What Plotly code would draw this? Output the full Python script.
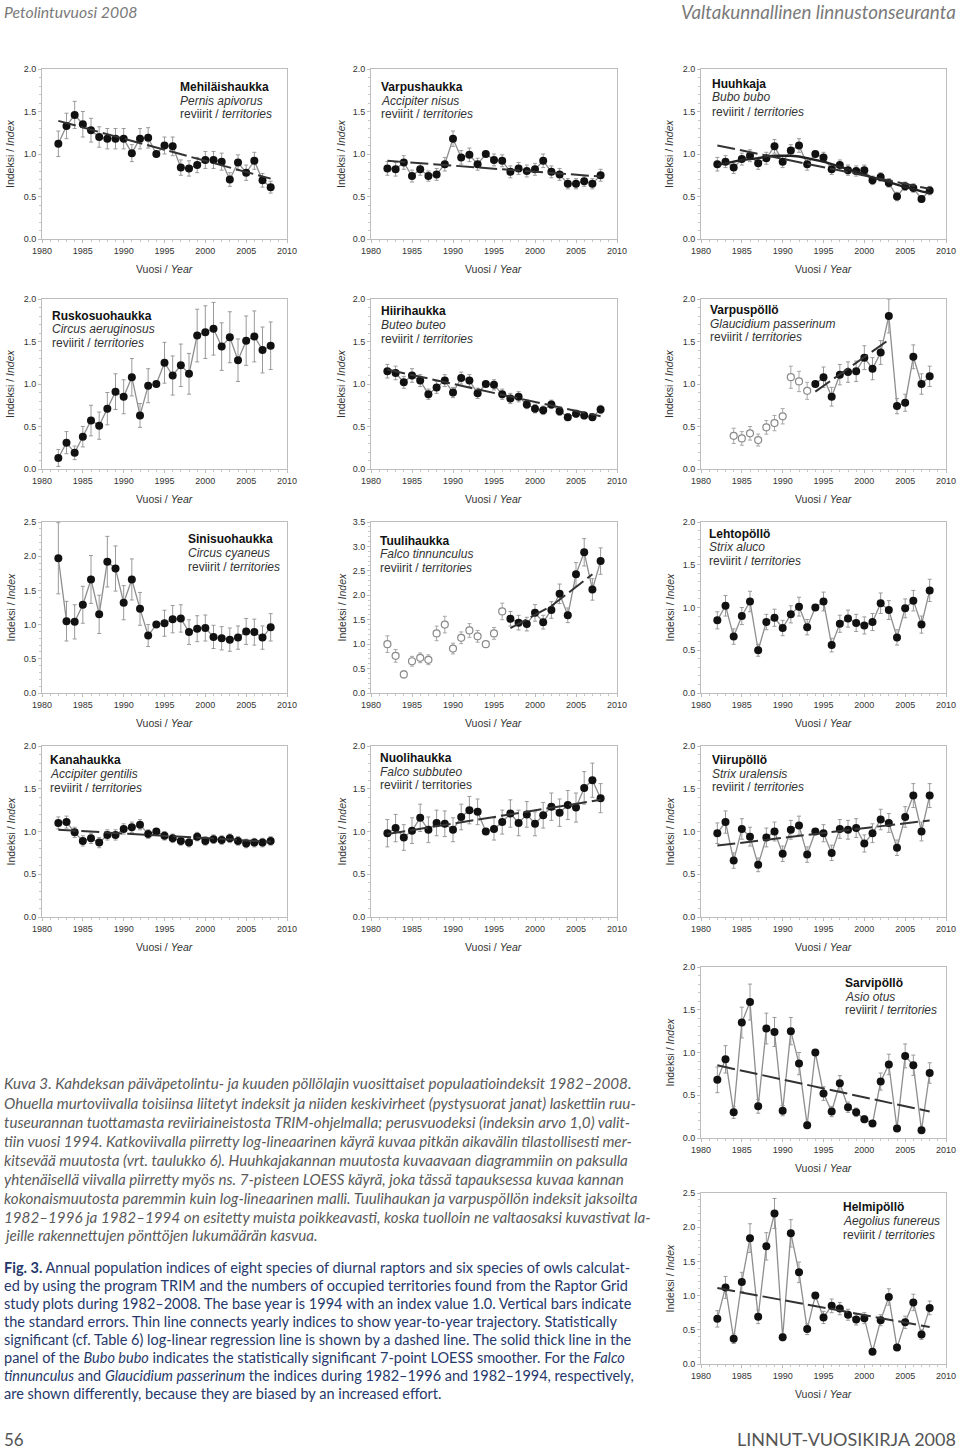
import plotly.graph_objects as go

W, H = 960, 1452

YEARS = list(range(1982, 2009))
X_TICKS = [1980, 1985, 1990, 1995, 2000, 2005, 2010]

# ---------------- data ----------------
MEHI_IDX = [1.12, 1.33, 1.46, 1.35, 1.28, 1.20, 1.18, 1.18, 1.18, 1.01, 1.18, 1.19, 1.00, 1.10, 1.09,
            0.84, 0.83, 0.87, 0.93, 0.93, 0.91, 0.70, 0.90, 0.78, 0.92, 0.69, 0.61]
MEHI_SE = [0.15, 0.15, 0.16, 0.15, 0.14, 0.12, 0.12, 0.12, 0.12, 0.10, 0.12, 0.12, 0, 0.10, 0.11,
           0.09, 0.09, 0.09, 0.10, 0.10, 0.10, 0.08, 0.09, 0.09, 0.10, 0.08, 0.07]
MEHI_TREND_X = [1982, 2008]
MEHI_TREND_Y = [1.39, 0.71]

VARP_IDX = [0.83, 0.82, 0.90, 0.74, 0.82, 0.74, 0.76, 0.88, 1.18, 0.96, 0.99, 0.88, 1.00, 0.93, 0.92,
            0.79, 0.83, 0.80, 0.82, 0.92, 0.79, 0.76, 0.65, 0.65, 0.68, 0.65, 0.75]
VARP_SE = [0.08, 0.08, 0.08, 0.07, 0.07, 0.06, 0.07, 0.08, 0.09, 0.08, 0.08, 0.07, 0, 0.07, 0.07,
           0.07, 0.07, 0.07, 0.07, 0.08, 0.07, 0.07, 0.06, 0.06, 0.06, 0.06, 0.07]
VARP_TREND_X = [1982, 2008]
VARP_TREND_Y = [0.92, 0.735]

HUUH_IDX = [0.88, 0.91, 0.84, 0.94, 0.98, 0.89, 0.95, 1.09, 0.91, 1.04, 1.10, 0.88, 1.00, 0.96, 0.82,
            0.87, 0.81, 0.80, 0.81, 0.69, 0.73, 0.66, 0.50, 0.62, 0.60, 0.47, 0.57]
HUUH_SE = [0.08, 0.07, 0.07, 0.07, 0.07, 0.07, 0.07, 0.08, 0.07, 0.07, 0.08, 0.07, 0, 0.06, 0.06,
           0.06, 0.06, 0.06, 0.06, 0.05, 0.05, 0.05, 0.05, 0.05, 0.05, 0.04, 0.05]
HUUH_TREND_X = [1982, 2008]
HUUH_TREND_Y = [1.10, 0.59]
HUUH_LOESS = [0.87, 0.89, 0.91, 0.93, 0.94, 0.95, 0.97, 0.98, 0.98, 0.98, 0.97, 0.95, 0.93, 0.91, 0.88,
              0.85, 0.82, 0.79, 0.76, 0.72, 0.70, 0.67, 0.64, 0.61, 0.59, 0.56, 0.54]

RUSK_IDX = [0.13, 0.31, 0.19, 0.38, 0.57, 0.51, 0.71, 0.91, 0.85, 1.08, 0.63, 0.98, 1.00, 1.25, 1.10,
            1.22, 1.12, 1.57, 1.61, 1.65, 1.44, 1.55, 1.28, 1.51, 1.56, 1.40, 1.45]
RUSK_SE = [0.10, 0.13, 0.08, 0.12, 0.18, 0.16, 0.19, 0.21, 0.20, 0.22, 0.14, 0.20, 0, 0.24, 0.23,
           0.25, 0.24, 0.31, 0.31, 0.31, 0.28, 0.30, 0.25, 0.29, 0.30, 0.27, 0.28]

HIIR_IDX = [1.15, 1.13, 1.02, 1.10, 1.04, 0.88, 0.96, 1.04, 0.90, 1.07, 1.04, 0.89, 1.00, 0.99, 0.88,
            0.83, 0.85, 0.76, 0.71, 0.69, 0.76, 0.68, 0.61, 0.65, 0.63, 0.61, 0.70]
HIIR_SE = [0.08, 0.08, 0.07, 0.08, 0.07, 0.06, 0.07, 0.07, 0.06, 0.07, 0.07, 0.06, 0, 0.06, 0.06,
           0.06, 0.06, 0.05, 0.05, 0.05, 0.05, 0.05, 0.04, 0.04, 0.04, 0.04, 0.05]
HIIR_TREND_X = [1982, 2008]
HIIR_TREND_Y = [1.17, 0.62]

VPOL_IDX = [None, None, 0.39, 0.36, 0.42, 0.34, 0.49, 0.54, 0.62, 1.08, 1.03, 0.92, 1.00, 1.08, 0.85,
            1.11, 1.14, 1.15, 1.31, 1.18, 1.37, 1.80, 0.74, 0.78, 1.32, 1.00, 1.09]
VPOL_SE = [None, None, 0.09, 0.08, 0.08, 0.07, 0.08, 0.09, 0.09, 0.13, 0.12, 0.10, 0, 0.12, 0.11,
           0.12, 0.12, 0.12, 0.14, 0.13, 0.14, 0.20, 0.09, 0.10, 0.14, 0.12, 0.12]
VPOL_TREND_X = [1994, 2003]
VPOL_TREND_Y = [0.91, 1.52]

SINI_IDX = [1.97, 1.05, 1.04, 1.29, 1.66, 1.15, 1.92, 1.82, 1.32, 1.66, 1.23, 0.84, 1.00, 1.02, 1.08,
            1.09, 0.89, 0.94, 0.95, 0.82, 0.80, 0.78, 0.81, 0.90, 0.89, 0.81, 0.96]
SINI_SE = [0.52, 0.29, 0.25, 0.27, 0.35, 0.28, 0.37, 0.33, 0.25, 0.30, 0.24, 0.16, 0, 0.19, 0.20,
           0.20, 0.18, 0.19, 0.19, 0.17, 0.17, 0.17, 0.17, 0.19, 0.19, 0.17, 0.20]

TUUL_IDX = [1.00, 0.76, 0.38, 0.65, 0.72, 0.68, 1.22, 1.40, 0.91, 1.13, 1.28, 1.16, 1.00, 1.22, 1.67,
            1.52, 1.44, 1.41, 1.64, 1.45, 1.70, 2.03, 1.59, 2.43, 2.88, 2.12, 2.70]
TUUL_SE = [0.17, 0.13, 0.07, 0.10, 0.10, 0.10, 0.15, 0.17, 0.11, 0.12, 0.14, 0.12, 0, 0.12, 0.17,
           0.15, 0.15, 0.14, 0.17, 0.14, 0.17, 0.20, 0.15, 0.24, 0.28, 0.22, 0.27]
TUUL_TREND_X = [1997, 2002, 2007]
TUUL_TREND_Y = [1.33, 1.78, 2.43]

LEHT_IDX = [0.85, 1.02, 0.66, 0.90, 1.07, 0.50, 0.83, 0.88, 0.76, 0.92, 1.01, 0.77, 1.00, 1.07, 0.56,
            0.81, 0.87, 0.82, 0.79, 0.83, 1.05, 0.97, 0.65, 0.99, 1.08, 0.80, 1.20]
LEHT_SE = [0.10, 0.12, 0.09, 0.10, 0.12, 0.07, 0.09, 0.10, 0.09, 0.10, 0.11, 0.09, 0, 0.11, 0.08,
           0.10, 0.10, 0.10, 0.10, 0.10, 0.12, 0.11, 0.09, 0.11, 0.12, 0.10, 0.13]

KANA_IDX = [1.10, 1.11, 0.99, 0.89, 0.92, 0.87, 0.96, 0.96, 1.03, 1.05, 1.08, 0.97, 1.00, 0.95, 0.92,
            0.89, 0.87, 0.94, 0.89, 0.91, 0.90, 0.92, 0.89, 0.86, 0.87, 0.87, 0.89]
KANA_SE = [0.07, 0.07, 0.06, 0.06, 0.06, 0.06, 0.06, 0.06, 0.06, 0.06, 0.06, 0.05, 0, 0.05, 0.05,
           0.05, 0.05, 0.05, 0.05, 0.05, 0.05, 0.05, 0.05, 0.05, 0.05, 0.05, 0.05]
KANA_TREND_X = [1982, 2008]
KANA_TREND_Y = [1.02, 0.88]

NUOL_IDX = [0.98, 1.04, 0.93, 1.01, 1.16, 1.02, 1.10, 1.09, 1.02, 1.17, 1.25, 1.23, 1.00, 1.03, 1.11,
            1.21, 1.10, 1.20, 1.09, 1.19, 1.29, 1.22, 1.31, 1.28, 1.51, 1.60, 1.39]
NUOL_SE = [0.16, 0.16, 0.15, 0.15, 0.16, 0.15, 0.15, 0.15, 0.14, 0.15, 0.16, 0.15, 0, 0.13, 0.14,
           0.16, 0.15, 0.15, 0.14, 0.15, 0.16, 0.16, 0.17, 0.17, 0.19, 0.20, 0.17]
NUOL_TREND_X = [1982, 2008]
NUOL_TREND_Y = [0.97, 1.37]

VIIR_IDX = [0.98, 1.11, 0.66, 1.03, 0.94, 0.61, 0.93, 1.00, 0.74, 1.02, 1.07, 0.73, 1.00, 0.98, 0.75,
            1.03, 1.02, 1.04, 0.86, 0.98, 1.14, 1.10, 0.81, 1.17, 1.42, 1.00, 1.42]
VIIR_SE = [0.12, 0.13, 0.09, 0.12, 0.11, 0.08, 0.11, 0.11, 0.09, 0.11, 0.11, 0.09, 0, 0.10, 0.09,
           0.11, 0.11, 0.11, 0.10, 0.11, 0.12, 0.11, 0.09, 0.12, 0.14, 0.11, 0.14]
VIIR_TREND_X = [1982, 2008]
VIIR_TREND_Y = [0.835, 1.13]

SARV_IDX = [0.68, 0.92, 0.30, 1.35, 1.59, 0.37, 1.28, 1.24, 0.32, 1.25, 0.87, 0.15, 1.00, 0.52, 0.31,
            0.64, 0.36, 0.30, 0.22, 0.17, 0.66, 0.86, 0.11, 0.96, 0.85, 0.09, 0.76]
SARV_SE = [0.15, 0.16, 0.07, 0.18, 0.21, 0.08, 0.18, 0.17, 0.06, 0.16, 0.13, 0.04, 0, 0.08, 0.06,
           0.09, 0.06, 0.05, 0.04, 0.03, 0.10, 0.12, 0.03, 0.14, 0.12, 0.02, 0.12]
SARV_TREND_X = [1982, 2008]
SARV_TREND_Y = [0.85, 0.31]

HELM_IDX = [0.66, 1.12, 0.37, 1.20, 1.84, 0.69, 1.72, 2.20, 0.39, 1.91, 1.34, 0.51, 1.00, 0.68, 0.85,
            0.81, 0.72, 0.65, 0.67, 0.18, 0.64, 0.98, 0.24, 0.61, 0.90, 0.43, 0.82]
HELM_SE = [0.12, 0.16, 0.07, 0.14, 0.21, 0.10, 0.20, 0.22, 0.05, 0.20, 0.15, 0.08, 0, 0.09, 0.10,
           0.09, 0.08, 0.08, 0.08, 0.03, 0.08, 0.12, 0.04, 0.09, 0.12, 0.07, 0.10]
HELM_TREND_X = [1982, 2008]
HELM_TREND_Y = [1.11, 0.54]

# ---------------- layout geometry (pixels) ----------------
COLS = [(42, 287), (371, 617), (701, 946)]
ROWS = [(69, 239), (299, 469), (522, 693), (746, 917), (967, 1138), (1193, 1364)]
YTITLE_X = [10, 341, 669]

PANELS = [
    dict(idx=MEHI_IDX, se=MEHI_SE, tx=MEHI_TREND_X, ty=MEHI_TREND_Y, name="Mehiläishaukka",
         sci="Pernis apivorus", ymax=2.0, col=0, row=0, txt=(178, 87, 100.5, 114)),
    dict(idx=VARP_IDX, se=VARP_SE, tx=VARP_TREND_X, ty=VARP_TREND_Y, name="Varpushaukka",
         sci="Accipiter nisus", ymax=2.0, col=1, row=0, txt=(379, 87, 100.5, 114)),
    dict(idx=HUUH_IDX, se=HUUH_SE, tx=HUUH_TREND_X, ty=HUUH_TREND_Y, loess=HUUH_LOESS, name="Huuhkaja",
         sci="Bubo bubo", ymax=2.0, col=2, row=0, txt=(710, 84, 97.5, 111.5)),
    dict(idx=RUSK_IDX, se=RUSK_SE, name="Ruskosuohaukka",
         sci="Circus aeruginosus", ymax=2.0, col=0, row=1, txt=(50, 315.5, 329, 342.5)),
    dict(idx=HIIR_IDX, se=HIIR_SE, tx=HIIR_TREND_X, ty=HIIR_TREND_Y, name="Hiirihaukka",
         sci="Buteo buteo", ymax=2.0, col=1, row=1, txt=(379, 311, 325, 338.5)),
    dict(idx=VPOL_IDX, se=VPOL_SE, tx=VPOL_TREND_X, ty=VPOL_TREND_Y, name="Varpuspöllö",
         sci="Glaucidium passerinum", ymax=2.0, col=2, row=1, txt=(708, 310, 324, 337.5), first_filled=1994),
    dict(idx=SINI_IDX, se=SINI_SE, name="Sinisuohaukka",
         sci="Circus cyaneus", ymax=2.5, col=0, row=2, txt=(186, 539, 552.5, 566.5)),
    dict(idx=TUUL_IDX, se=TUUL_SE, tx=TUUL_TREND_X, ty=TUUL_TREND_Y, name="Tuulihaukka",
         sci="Falco tinnunculus", ymax=3.5, col=1, row=2, txt=(378, 540.5, 554, 568), first_filled=1997),
    dict(idx=LEHT_IDX, se=LEHT_SE, name="Lehtopöllö",
         sci="Strix aluco", ymax=2.0, col=2, row=2, txt=(707, 534, 547.5, 560.5)),
    dict(idx=KANA_IDX, se=KANA_SE, tx=KANA_TREND_X, ty=KANA_TREND_Y, name="Kanahaukka",
         sci="Accipiter gentilis", ymax=2.0, col=0, row=3, txt=(48, 760.5, 774, 788)),
    dict(idx=NUOL_IDX, se=NUOL_SE, tx=NUOL_TREND_X, ty=NUOL_TREND_Y, name="Nuolihaukka",
         sci="Falco subbuteo", ymax=2.0, col=1, row=3, txt=(378, 758, 771.5, 785), plain_terr=True),
    dict(idx=VIIR_IDX, se=VIIR_SE, tx=VIIR_TREND_X, ty=VIIR_TREND_Y, name="Viirupöllö",
         sci="Strix uralensis", ymax=2.0, col=2, row=3, txt=(710, 760, 773.5, 787)),
    dict(idx=SARV_IDX, se=SARV_SE, tx=SARV_TREND_X, ty=SARV_TREND_Y, name="Sarvipöllö",
         sci="Asio otus", ymax=2.0, col=2, row=4, txt=(843, 983, 996.5, 1010)),
    dict(idx=HELM_IDX, se=HELM_SE, tx=HELM_TREND_X, ty=HELM_TREND_Y, name="Helmipöllö",
         sci="Aegolius funereus", ymax=2.5, col=2, row=5, txt=(841, 1207, 1220.5, 1234.5)),
]

FONT = "Liberation Sans, Arial, sans-serif"
CAP_FONT = "Lato, Open Sans, sans-serif"


def px(x):
    return x / W


def py(y):
    return 1 - y / H


fig = go.Figure()
annotations = []
layout_axes = {}

for i, p in enumerate(PANELS):
    n = i + 1
    xa = "x" if n == 1 else f"x{n}"
    ya = "y" if n == 1 else f"y{n}"
    x0, x1 = COLS[p["col"]]
    y0, y1 = ROWS[p["row"]]
    ymax = p["ymax"]

    layout_axes["xaxis" if n == 1 else f"xaxis{n}"] = dict(
        domain=[px(x0), px(x1)], range=[1980, 2010], anchor=ya,
        tickmode="array", tickvals=X_TICKS, ticktext=[str(t) for t in X_TICKS],
        showline=True, linecolor="#bdbdbd", linewidth=1, mirror=True,
        ticks="outside", ticklen=3, tickcolor="#bdbdbd",
        minor=dict(dtick=1, ticks="outside", ticklen=2, tickcolor="#c8c8c8"),
        showgrid=False, zeroline=False, fixedrange=True, automargin=False,
        tickfont=dict(family=FONT, size=9, color="#333"),
    )
    layout_axes["yaxis" if n == 1 else f"yaxis{n}"] = dict(
        domain=[py(y1), py(y0)], range=[0, ymax], anchor=xa,
        dtick=0.5, tick0=0, tickformat=".1f",
        showline=True, linecolor="#bdbdbd", linewidth=1, mirror=True,
        ticks="outside", ticklen=3, tickcolor="#bdbdbd",
        minor=dict(dtick=0.1, ticks="outside", ticklen=2, tickcolor="#c8c8c8"),
        showgrid=False, zeroline=False, fixedrange=True, automargin=False,
        tickfont=dict(family=FONT, size=9, color="#333"),
    )

    ff = p.get("first_filled", 1982)
    yrs, idx, se = YEARS, p["idx"], p["se"]
    o_x = [yr for yr, v in zip(yrs, idx) if v is not None and yr < ff]
    o_y = [v for yr, v in zip(yrs, idx) if v is not None and yr < ff]
    o_e = [e for yr, v, e in zip(yrs, idx, se) if v is not None and yr < ff]
    f_x = [yr for yr, v in zip(yrs, idx) if v is not None and yr >= ff]
    f_y = [v for yr, v in zip(yrs, idx) if v is not None and yr >= ff]
    f_e = [e for yr, v, e in zip(yrs, idx, se) if v is not None and yr >= ff]

    # thin connecting line
    fig.add_trace(go.Scatter(x=f_x, y=f_y, xaxis=xa, yaxis=ya, mode="lines",
                             line=dict(color="#8e8e8e", width=1.3), hoverinfo="skip", showlegend=False))
    if o_x:
        fig.add_trace(go.Scatter(x=o_x, y=o_y, xaxis=xa, yaxis=ya, mode="markers",
                                 marker=dict(symbol="circle", size=7, color="white",
                                             line=dict(color="#8a8a8a", width=1.2)),
                                 error_y=dict(type="data", array=o_e, color="#a8a8a8", thickness=1, width=2),
                                 showlegend=False))
    fig.add_trace(go.Scatter(x=f_x, y=f_y, xaxis=xa, yaxis=ya, mode="markers",
                             marker=dict(symbol="circle", size=8, color="#111"),
                             error_y=dict(type="data", array=f_e, color="#9a9a9a", thickness=1, width=2),
                             showlegend=False))
    if "loess" in p:
        fig.add_trace(go.Scatter(x=YEARS, y=p["loess"], xaxis=xa, yaxis=ya, mode="lines",
                                 line=dict(color="#222", width=2.4), hoverinfo="skip", showlegend=False))
    if "tx" in p:
        fig.add_trace(go.Scatter(x=p["tx"], y=p["ty"], xaxis=xa, yaxis=ya, mode="lines",
                                 line=dict(color="#333", width=2, dash="18px,5px"),
                                 hoverinfo="skip", showlegend=False))

    # in-panel species text
    tx0, l1, l2, l3 = p["txt"]
    terr = "reviirit / territories" if p.get("plain_terr") else "reviirit / <i>territories</i>"
    for yy, t, col in [(l1, f"<b>{p['name']}</b>", "#111"), (l2, f"<i>{p['sci']}</i>", "#333"),
                       (l3, terr, "#333")]:
        annotations.append(dict(x=px(tx0), y=py(yy), xref="paper", yref="paper", text=t,
                                showarrow=False, xanchor="left", yanchor="middle",
                                font=dict(family=FONT, size=12, color=col)))
    # axis titles
    annotations.append(dict(x=px((x0 + x1) / 2), y=py(y1 + 30), xref="paper", yref="paper",
                            text="Vuosi / <i>Year</i>", showarrow=False, xanchor="center", yanchor="middle",
                            font=dict(family=FONT, size=10.5, color="#333")))
    annotations.append(dict(x=px(YTITLE_X[p["col"]]), y=py((y0 + y1) / 2), xref="paper", yref="paper",
                            text="Indeksi / <i>Index</i>", showarrow=False, textangle=-90,
                            xanchor="center", yanchor="middle",
                            font=dict(family=FONT, size=10.5, color="#333")))

# ---------------- page texts ----------------
HEADER_COL = "#7a7a7a"
annotations.append(dict(x=px(2), y=py(12), xref="paper", yref="paper", text="<i>Petolintuvuosi 2008</i>",
                        showarrow=False, xanchor="left", yanchor="middle",
                        font=dict(family=CAP_FONT, size=15.8, color=HEADER_COL)))
annotations.append(dict(x=px(958), y=py(12), xref="paper", yref="paper",
                        text="<i>Valtakunnallinen linnustonseuranta</i>",
                        showarrow=False, xanchor="right", yanchor="middle",
                        font=dict(family=CAP_FONT, size=18.8, color=HEADER_COL)))
annotations.append(dict(x=px(2), y=py(1439), xref="paper", yref="paper", text="56",
                        showarrow=False, xanchor="left", yanchor="middle",
                        font=dict(family=CAP_FONT, size=17, color="#555")))
annotations.append(dict(x=px(958), y=py(1439), xref="paper", yref="paper", text="LINNUT-VUOSIKIRJA 2008",
                        showarrow=False, xanchor="right", yanchor="middle",
                        font=dict(family=CAP_FONT, size=18, color="#555")))

FI_LINES = [
    "Kuva 3. Kahdeksan päiväpetolintu- ja kuuden pöllölajin vuosittaiset populaatioindeksit 1982–2008.",
    "Ohuella murtoviivalla toisiinsa liitetyt indeksit ja niiden keskivirheet (pystysuorat janat) laskettiin ruu-",
    "tuseurannan tuottamasta reviiriaineistosta TRIM-ohjelmalla; perusvuodeksi (indeksin arvo 1,0) valit-",
    "tiin vuosi 1994. Katkoviivalla piirretty log-lineaarinen käyrä kuvaa pitkän aikavälin tilastollisesti mer-",
    "kitsevää muutosta (vrt. taulukko 6). Huuhkajakannan muutosta kuvaavaan diagrammiin on paksulla",
    "yhtenäisellä viivalla piirretty myös ns. 7-pisteen LOESS käyrä, joka tässä tapauksessa kuvaa kannan",
    "kokonaismuutosta paremmin kuin log-lineaarinen malli. Tuulihaukan ja varpuspöllön indeksit jaksoilta",
    "1982–1996 ja 1982–1994 on esitetty muista poikkeavasti, koska tuolloin ne valtaosaksi kuvastivat la-",
    "jeille rakennettujen pönttöjen lukumäärän kasvua.",
]
FI_Y = [1083, 1103, 1122, 1141, 1160, 1179, 1198, 1217, 1235]

EN_LINES = [
    "<b>Fig. 3.</b> Annual population indices of eight species of diurnal raptors and six species of owls calculat-",
    "ed by using the program TRIM and the numbers of occupied territories found from the Raptor Grid",
    "study plots during 1982–2008. The base year is 1994 with an index value 1.0. Vertical bars indicate",
    "the standard errors. Thin line connects yearly indices to show year-to-year trajectory. Statistically",
    "significant (cf. Table 6) log-linear regression line is shown by a dashed line. The solid thick line in the",
    "panel of the <i>Bubo bubo</i> indicates the statistically significant 7-point LOESS smoother. For the <i>Falco</i>",
    "<i>tinnunculus</i> and <i>Glaucidium passerinum</i> the indices during 1982–1996 and 1982–1994, respectively,",
    "are shown differently, because they are biased by an increased effort.",
]
EN_Y = [1267, 1285, 1303, 1321, 1339, 1357, 1375, 1393]

for t, yy in zip(FI_LINES, FI_Y):
    annotations.append(dict(x=px(2), y=py(yy), xref="paper", yref="paper", text=f"<i>{t}</i>",
                            showarrow=False, xanchor="left", yanchor="middle",
                            font=dict(family=CAP_FONT, size=15.2, color="#5a5a5a")))
for t, yy in zip(EN_LINES, EN_Y):
    annotations.append(dict(x=px(2), y=py(yy), xref="paper", yref="paper", text=t,
                            showarrow=False, xanchor="left", yanchor="middle",
                            font=dict(family=CAP_FONT, size=14.5, color="#26386a")))

fig.update_layout(
    width=W, height=H, margin=dict(l=0, r=0, t=0, b=0, pad=0, autoexpand=False),
    paper_bgcolor="white", plot_bgcolor="white",
    showlegend=False, annotations=annotations, **layout_axes,
)

fig.write_html(
    "out.html",
    config={"displayModeBar": False, "staticPlot": True},
    post_script="document.body.style.margin='0';document.body.style.padding='0';"
                "document.body.style.overflow='hidden';",
)
